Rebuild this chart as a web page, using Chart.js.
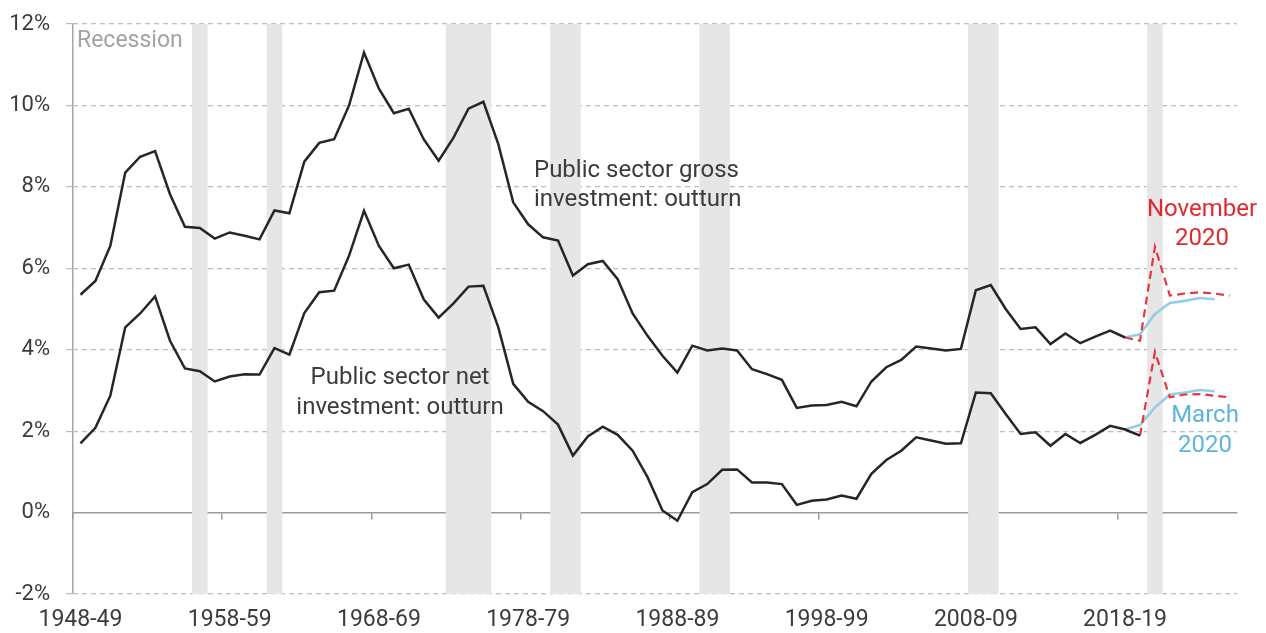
<!DOCTYPE html>
<html>
<head>
<meta charset="utf-8">
<script src="https://cdn.jsdelivr.net/npm/chart.js@4"></script>
<style>
  body { margin: 0; background: #fff; }
  #wrap { width: 1266px; height: 633px; }
</style>
</head>
<body>
<div id="wrap"><canvas id="myChart" width="1266" height="633"></canvas></div>
<script>
// categories: financial years 1948-49 .. 2025-26
const years = [];
for (let y = 1948; y <= 2025; y++) {
    years.push(y + '-' + String((y + 1) % 100).padStart(2, '0'));
}

// public sector gross investment outturn, % of GDP (1948-49 .. 2018-19)
const grossOutturn = [5.35, 5.69, 6.55, 8.35, 8.74, 8.88, 7.82, 7.02, 6.99, 6.73,
    6.88, 6.80, 6.71, 7.42, 7.35, 8.62, 9.08, 9.17, 10.00, 11.30,
    10.41, 9.81, 9.92, 9.17, 8.64, 9.21, 9.92, 10.09, 9.05, 7.62,
    7.08, 6.76, 6.68, 5.82, 6.10, 6.18, 5.73, 4.89, 4.34, 3.85,
    3.44, 4.10, 3.98, 4.03, 3.98, 3.52, 3.40, 3.26, 2.57, 2.63,
    2.64, 2.72, 2.61, 3.22, 3.57, 3.75, 4.08, 4.03, 3.98, 4.02,
    5.46, 5.59, 5.00, 4.51, 4.55, 4.14, 4.40, 4.16, 4.32, 4.47,
    4.30];

// public sector net investment outturn (1948-49 .. 2019-20)
const netOutturn = [1.70, 2.08, 2.87, 4.55, 4.89, 5.31, 4.22, 3.54, 3.47, 3.22,
    3.34, 3.40, 3.39, 4.04, 3.88, 4.90, 5.41, 5.45, 6.31, 7.41,
    6.55, 6.00, 6.09, 5.24, 4.79, 5.14, 5.55, 5.57, 4.55, 3.16,
    2.72, 2.49, 2.16, 1.40, 1.87, 2.11, 1.91, 1.52, 0.87, 0.05,
    -0.20, 0.50, 0.70, 1.05, 1.06, 0.74, 0.74, 0.70, 0.19, 0.29,
    0.32, 0.42, 0.34, 0.95, 1.29, 1.52, 1.85, 1.77, 1.69, 1.70,
    2.95, 2.93, 2.42, 1.93, 1.97, 1.64, 1.93, 1.71, 1.91, 2.13,
    2.04, 1.89];

// forecasts, starting at 2018-19 (gross, March net) or 2019-20 (November net)
const grossMarch = [4.30, 4.38, 4.88, 5.15, 5.20, 5.27, 5.24];
const grossNov = [4.30, 4.22, 6.53, 5.33, 5.38, 5.41, 5.38, 5.33];
const netMarch = [2.04, 2.15, 2.58, 2.90, 2.95, 3.01, 2.98];
const netNov = [1.89, 3.95, 2.83, 2.90, 2.91, 2.87, 2.83];

// recession years (shaded)
const recessionYears = ['1956-57', '1961-62', '1973-74', '1974-75', '1975-76',
    '1980-81', '1981-82', '1990-91', '1991-92', '2008-09', '2009-10', '2020-21'];

const yTicks = [-2, 0, 2, 4, 6, 8, 10, 12];

function from(start, arr) {
    const out = years.map(() => null);
    const i0 = years.indexOf(start);
    arr.forEach((v, i) => { out[i0 + i] = v; });
    return out;
}

const recessionBars = years.map(y => recessionYears.includes(y) ? [yTicks[0], yTicks[yTicks.length - 1]] : null);

const FONT = 'Roboto, "Open Sans", sans-serif';

// text labels
const notes = {
    id: 'notes',
    afterDatasetsDraw(chart) {
        const c = chart.ctx;
        c.save();
        c.font = '400 23px ' + FONT;
        c.textBaseline = 'middle';
        c.fillStyle = '#a3a3a3';
        c.textAlign = 'left';
        c.fillText('Recession', 77, 41);

        c.font = '400 24px ' + FONT;
        c.fillStyle = '#3c3c3c';
        c.fillText('Public sector gross', 534, 171);
        c.fillText('investment: outturn', 534, 200);
        c.textAlign = 'center';
        c.fillText('Public sector net', 400, 378);
        c.fillText('investment: outturn', 400, 408);

        c.fillStyle = '#e0292f';
        c.fillText('November', 1202, 210);
        c.fillText('2020', 1202, 239);
        c.fillStyle = '#5fb4dc';
        c.fillText('March', 1205, 416);
        c.fillText('2020', 1205, 446);
        c.restore();
    }
};

const lineBase = { type: 'line', pointRadius: 0, tension: 0, fill: false, spanGaps: false };

const config = {
    type: 'line',
    data: {
        labels: years,
        datasets: [
            Object.assign({}, lineBase, { label: 'Gross', data: from('1948-49', grossOutturn), borderColor: '#262626', borderWidth: 2.5, order: 1 }),
            Object.assign({}, lineBase, { label: 'Net', data: from('1948-49', netOutturn), borderColor: '#262626', borderWidth: 2.5, order: 1 }),
            Object.assign({}, lineBase, { label: 'Gross Nov', data: from('2018-19', grossNov), borderColor: '#e8353b', borderWidth: 2.2, borderDash: [8, 5], order: 2 }),
            Object.assign({}, lineBase, { label: 'Net Nov', data: from('2019-20', netNov), borderColor: '#e8353b', borderWidth: 2.2, borderDash: [8, 5], order: 2 }),
            Object.assign({}, lineBase, { label: 'Gross Mar', data: from('2018-19', grossMarch), borderColor: '#95cde8', borderWidth: 2.6, order: 3 }),
            Object.assign({}, lineBase, { label: 'Net Mar', data: from('2018-19', netMarch), borderColor: '#95cde8', borderWidth: 2.6, order: 3 }),
            {
                type: 'bar', label: 'Recession', data: recessionBars,
                backgroundColor: '#e6e6e6', borderWidth: 0,
                barPercentage: 1, categoryPercentage: 1, order: 10
            }
        ]
    },
    options: {
        responsive: false,
        animation: false,
        devicePixelRatio: 1,
        layout: { padding: { left: 0, right: 29, top: 24, bottom: 0 } },
        plugins: { legend: { display: false }, tooltip: { enabled: false } },
        scales: {
            x: {
                type: 'category',
                offset: true,
                grid: { display: false, drawTicks: false },
                border: { display: false },
                ticks: {
                    autoSkip: false, maxRotation: 0, padding: 12,
                    color: '#3c3c3c', font: { family: FONT, size: 23, weight: 400 },
                    callback: (v, i) => i % 10 === 0 ? years[i] : ''
                },
                afterFit: s => { s.height = 39; }
            },
            x2: {
                // zero line with decade tick marks, plus the solid left axis line
                type: 'category',
                position: { y: 0 },
                offset: true,
                grid: {
                    offset: true, drawOnChartArea: true, drawTicks: true, tickLength: 6, tickWidth: 1.5,
                    lineWidth: 1.5,
                    color: ctx => ctx.index === 0 ? '#a6a6a6' : 'rgba(0,0,0,0)',
                    tickColor: ctx => (ctx.index !== undefined && ctx.index % 10 === 0) ? '#999' : 'rgba(0,0,0,0)'
                },
                border: { display: true, color: '#9a9a9a', width: 1.5 },
                ticks: { display: false, autoSkip: false },
                afterFit: s => { s.height = 0; }
            },
            y: {
                min: yTicks[0], max: yTicks[yTicks.length - 1],
                afterBuildTicks: s => { s.ticks = yTicks.map(v => ({ value: v })); },
                grid: {
                    color: ctx => ctx.tick && ctx.tick.value === 0 ? 'rgba(0,0,0,0)' : '#bdbdbd',
                    lineWidth: 1.2, tickLength: 7
                },
                border: { display: false, dash: [5, 4] },
                ticks: {
                    padding: 16, color: '#3c3c3c', font: { family: FONT, size: 22, weight: 400 },
                    callback: v => v + '%'
                },
                afterFit: s => { s.width = 73; s.paddingTop = 0; }
            }
        }
    },
    plugins: [notes]
};

const myChart = new Chart(document.getElementById('myChart'), config);
</script>
</body>
</html>
